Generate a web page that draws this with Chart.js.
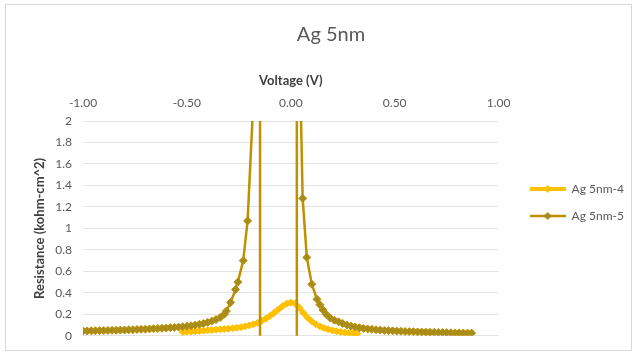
<!DOCTYPE html>
<html>
<head>
<meta charset="utf-8">
<script src="https://cdn.jsdelivr.net/npm/chart.js@4.4.0/dist/chart.umd.min.js"></script>
<style>
html, body { margin: 0; padding: 0; background: #fff; }
#wrap { position: relative; width: 636px; height: 354px; }
#frame { position: absolute; left: 5px; top: 4px; width: 627px; height: 347px; border: 1px solid #d9d9d9; box-sizing: border-box; }
#chart_ag { position: absolute; left: 0; top: 0; }
</style>
</head>
<body>
<div id="wrap">
  <div id="frame"></div>
  <canvas id="chart_ag" width="636" height="354"></canvas>
</div>
<script>
// Ag 5nm resistance vs voltage sweep

// sample 4
var voltage4 = [-0.52, -0.50, -0.48, -0.46, -0.44, -0.42, -0.40, -0.38, -0.36, -0.34,
                -0.32, -0.30, -0.28, -0.26, -0.24, -0.22, -0.20, -0.18, -0.16, -0.14,
                -0.12, -0.10, -0.08, -0.06, -0.04, -0.02, 0.00, 0.02, 0.04, 0.06,
                0.08, 0.10, 0.12, 0.14, 0.16, 0.18, 0.20, 0.22, 0.24, 0.26,
                0.28, 0.30, 0.32];
var resist4 = [0.035, 0.037, 0.04, 0.042, 0.045, 0.048, 0.051, 0.054, 0.057, 0.06,
               0.063, 0.066, 0.07, 0.075, 0.08, 0.088, 0.097, 0.107, 0.12, 0.14,
               0.16, 0.185, 0.215, 0.245, 0.275, 0.30, 0.31, 0.30, 0.265, 0.215,
               0.17, 0.135, 0.108, 0.088, 0.072, 0.06, 0.05, 0.042, 0.036, 0.031,
               0.027, 0.023, 0.02];

// sample 5 (blows up near -0.15 V and +0.03 V)
var voltage5 = [-1.00, -0.98, -0.96, -0.94, -0.92, -0.90, -0.88, -0.86, -0.84, -0.82,
                -0.80, -0.78, -0.76, -0.74, -0.72, -0.70, -0.68, -0.66, -0.64, -0.62,
                -0.60, -0.58, -0.56, -0.54, -0.52, -0.50, -0.48, -0.46, -0.44, -0.42,
                -0.40, -0.38, -0.36, -0.34, -0.32,
                -0.31, -0.29, -0.266, -0.255, -0.229, -0.208, -0.18, -0.165, -0.149, -0.147,
                -0.10, -0.05, 0.00,
                0.028, 0.030, 0.036, 0.045, 0.057, 0.077, 0.101, 0.126, 0.14, 0.155, 0.17,
                0.19, 0.21, 0.23, 0.25, 0.27, 0.29, 0.31, 0.33, 0.35,
                0.37, 0.39, 0.41, 0.43, 0.45, 0.47, 0.49, 0.51, 0.53, 0.55,
                0.57, 0.59, 0.61, 0.63, 0.65, 0.67, 0.69, 0.71, 0.73, 0.75,
                0.77, 0.79, 0.81, 0.83, 0.85, 0.87];
var resist5 = [0.045, 0.045, 0.046, 0.047, 0.048, 0.049, 0.05, 0.051, 0.052, 0.053,
               0.054, 0.056, 0.057, 0.059, 0.06, 0.062, 0.064, 0.066, 0.068, 0.07,
               0.072, 0.075, 0.078, 0.081, 0.085, 0.089, 0.094, 0.10, 0.107, 0.115,
               0.125, 0.137, 0.152, 0.17, 0.20,
               0.23, 0.31, 0.43, 0.50, 0.70, 1.07, 2.2, 5, 40, -40,
               -10, -8, -12,
               -40, 40, 6, 2.4, 1.28, 0.73, 0.48, 0.34, 0.29, 0.24, 0.20,
               0.165, 0.145, 0.13, 0.115, 0.10, 0.09, 0.082, 0.075, 0.069,
               0.064, 0.06, 0.056, 0.053, 0.05, 0.048, 0.046, 0.044, 0.042, 0.04,
               0.039, 0.038, 0.036, 0.035, 0.034, 0.033, 0.032, 0.031, 0.03, 0.029,
               0.028, 0.027, 0.027, 0.026, 0.025, 0.025];

var seriesNames = ["Ag 5nm-4", "Ag 5nm-5"];
var xTicks = [-1, -0.5, 0, 0.5, 1];
var yMin = 0, yMax = 2, yStep = 0.2;

var gold = "#FFC000";
var darkGold = "#BF9000";
var olive = "#A58C1E";

function toPoints(xs, ys) {
    var pts = [];
    for (var i = 0; i < xs.length; i++) {
        pts.push({x: xs[i], y: ys[i]});
    }
    return pts;
}

// little line+marker swatch for the legend
function swatch(lineColor, markColor, lw) {
    var c = document.createElement("canvas");
    c.width = 36; c.height = 10;
    var g = c.getContext("2d");
    g.strokeStyle = lineColor;
    g.lineWidth = lw;
    g.beginPath(); g.moveTo(0, 5); g.lineTo(36, 5); g.stroke();
    g.fillStyle = markColor;
    g.beginPath(); g.moveTo(18, 1); g.lineTo(22, 5); g.lineTo(18, 9); g.lineTo(14, 5); g.closePath(); g.fill();
    return c;
}

var ctxAg = document.getElementById("chart_ag").getContext("2d");
var ChartAg = new Chart(ctxAg, {
    type: "line",
    data: {
        datasets: [{
            label: seriesNames[0],
            data: toPoints(voltage4, resist4),
            borderColor: gold,
            borderWidth: 5,
            pointStyle: "rectRot",
            pointRadius: 3.5,
            pointBackgroundColor: gold,
            pointBorderColor: gold,
            pointBorderWidth: 1,
            tension: 0,
            order: 2
        }, {
            label: seriesNames[1],
            data: toPoints(voltage5, resist5),
            borderColor: darkGold,
            borderWidth: 2.5,
            pointStyle: "rectRot",
            pointRadius: 4,
            pointBackgroundColor: olive,
            pointBorderColor: darkGold,
            pointBorderWidth: 1,
            tension: 0,
            order: 1
        }]
    },
    options: {
        responsive: false,
        animation: false,
        layout: { padding: { left: 28, right: 2, top: 0, bottom: 17 } },
        scales: {
            x: {
                type: "linear",
                position: "top",
                min: -1,
                max: 1,
                afterBuildTicks: function(s) { s.ticks = xTicks.map(function(v) { return {value: v}; }); },
                afterFit: function(s) { s.height = 52; },
                grid: { display: false, drawTicks: false },
                border: { display: false },
                ticks: {
                    padding: 11,
                    color: "#595959",
                    font: { family: "Lato", size: 12 },
                    callback: function(v) { return v.toFixed(2); }
                },
                title: {
                    display: true,
                    text: "Voltage (V)",
                    color: "#404040",
                    font: { family: "Lato", size: 13, weight: "bold" },
                    padding: { top: 4, bottom: 4 }
                }
            },
            y: {
                type: "linear",
                min: yMin,
                max: yMax,
                afterFit: function(s) { s.width = 55; },
                grid: { color: "#e3e3e3", drawTicks: false },
                border: { display: false },
                ticks: {
                    stepSize: yStep,
                    padding: 11,
                    color: "#595959",
                    font: { family: "Lato", size: 12 },
                    callback: function(v) { return String(+v.toFixed(1)); }
                },
                title: {
                    display: true,
                    text: "Resistance (kohm-cm^2)",
                    color: "#404040",
                    font: { family: "Lato", size: 13, weight: "bold" },
                    padding: { top: 4, bottom: 4 }
                }
            },
            // spacer between plot and legend
            gap: {
                type: "linear",
                position: "right",
                display: true,
                afterFit: function(s) { s.width = 16; },
                grid: { display: false },
                border: { display: false },
                ticks: { display: false }
            }
        },
        plugins: {
            title: {
                display: true,
                text: "Ag 5nm",
                color: "#595959",
                font: { family: "Lato", size: 20, weight: "normal" },
                padding: { top: 23, bottom: 22 }
            },
            legend: {
                position: "right",
                maxWidth: 200,
                title: { display: true, text: "", font: { size: 10, lineHeight: 1 }, padding: 29 },
                labels: {
                    usePointStyle: true,
                    pointStyleWidth: 36,
                    padding: 15,
                    color: "#595959",
                    font: { family: "Lato", size: 12 },
                    sort: function(a, b) { return a.datasetIndex - b.datasetIndex; },
                    generateLabels: function(chart) {
                        var items = Chart.defaults.plugins.legend.labels.generateLabels(chart);
                        items.forEach(function(it) {
                            it.pointStyle = it.datasetIndex === 0 ? swatch(gold, gold, 4) : swatch(darkGold, olive, 2.5);
                        });
                        return items;
                    }
                }
            },
            tooltip: { enabled: false }
        }
    }
});
</script>
</body>
</html>
